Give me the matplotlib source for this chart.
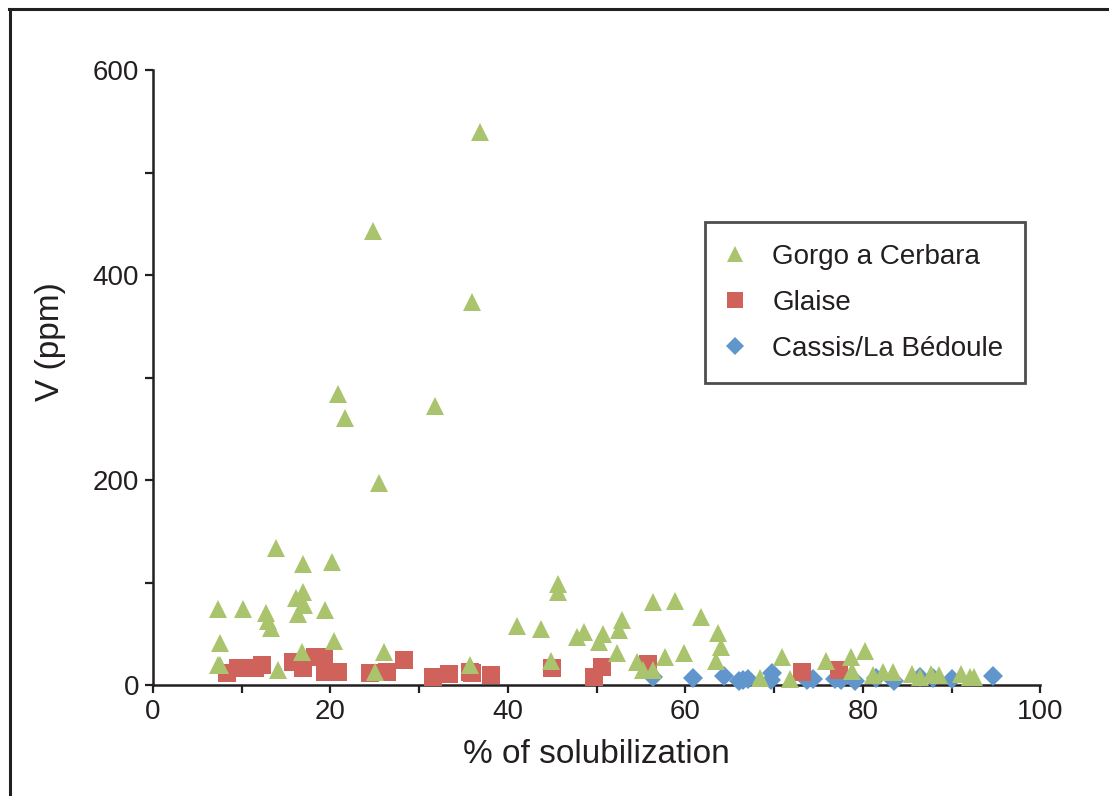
import matplotlib
matplotlib.use("Agg")
import matplotlib.pyplot as plt
from matplotlib.lines import Line2D
from matplotlib.ticker import MultipleLocator

plt.rcParams['font.family'] = ['Liberation Sans', 'DejaVu Sans']

# Gorgo a Cerbara (green triangles)
gorgo_x = [7.3, 7.6, 7.3, 7.6, 10.1, 12.7, 13.0, 13.3, 13.9, 14.1, 16.1, 16.3, 16.9, 16.9, 17.0, 16.8,
           19.4, 20.2, 20.4, 20.9, 21.6, 24.8, 25.0, 25.5, 26.0, 31.8, 36.0, 36.9, 35.7, 41.0, 43.7,
           44.9, 45.6, 45.7, 47.8, 48.6, 50.3, 50.7, 52.9, 52.5, 52.3, 54.6, 55.2, 56.4, 58.8, 57.7,
           56.4, 59.9, 61.8, 63.7, 64.0, 63.4, 70.9, 68.4, 71.8, 75.8, 78.7, 78.8, 80.2, 81.1, 82.3,
           83.4, 85.5, 86.5, 87.7, 88.6, 91.1, 92.1, 92.5]
gorgo_y = [74, 41, 20, 20, 74, 70, 62, 56, 134, 15, 85, 69, 91, 118, 78, 32,
           73, 120, 43, 284, 261, 443, 13, 197, 32, 272, 374, 540, 20, 58, 55,
           23, 99, 91, 47, 52, 42, 50, 63, 54, 31, 22, 15, 81, 82, 27,
           15, 31, 66, 51, 37, 23, 27, 7, 6, 23, 27, 14, 33, 10, 13,
           13, 11, 8, 11, 10, 11, 8, 8]

# Glaise (red squares)
glaise_x = [8.3, 9.6, 11.5, 12.3, 15.8, 16.9, 18.3, 19.3, 19.4, 20.9, 24.5, 26.4, 28.3, 31.6,
            33.4, 35.7, 36.0, 38.1, 45.0, 49.7, 50.6, 55.8, 73.2, 77.3]
glaise_y = [12, 17, 17, 20, 22, 17, 27, 27, 13, 13, 12, 13, 24, 8,
            11, 13, 12, 10, 17, 8, 18, 21, 13, 15]

# Cassis/La Bedoule (blue diamonds)
cassis_x = [56.4, 60.9, 64.3, 66.0, 66.5, 67.1, 69.8, 69.6, 73.7, 74.4, 76.9, 77.5, 79.1, 81.5,
            83.5, 86.5, 87.9, 90.0, 94.7]
cassis_y = [8, 7, 9, 4, 5, 6, 12, 5, 5, 6, 6, 5, 4, 7, 4, 8, 7, 6, 9]

green = '#AAC46E'
red = '#CF635C'
blue = '#6096CC'
ink = '#231F20'

fig = plt.figure(figsize=(11.09, 7.96), dpi=100)
ax = fig.add_axes([0.138, 0.1394, 0.8, 0.7726])

ax.plot(cassis_x, cassis_y, 'D', color=blue, ms=10.5, mew=0, clip_on=False, zorder=3)
ax.plot(glaise_x, glaise_y, 's', color=red, ms=12.5, mew=0, clip_on=False, zorder=4)
ax.plot(gorgo_x, gorgo_y, '^', color=green, ms=12.5, mew=0, clip_on=False, zorder=5)

ax.set_xlim(0, 100)
ax.set_ylim(0, 600)
ax.xaxis.set_major_locator(MultipleLocator(20))
ax.xaxis.set_minor_locator(MultipleLocator(10))
ax.yaxis.set_major_locator(MultipleLocator(200))
ax.yaxis.set_minor_locator(MultipleLocator(100))
for s in ['top', 'right']:
    ax.spines[s].set_visible(False)
for s in ['left', 'bottom']:
    ax.spines[s].set_linewidth(1.8)
    ax.spines[s].set_color(ink)
ax.tick_params(which='both', direction='out', length=6, width=1.6, color=ink,
               labelsize=20, labelcolor=ink, pad=4)

ax.set_xlabel('% of solubilization', fontsize=24, color=ink, labelpad=10)
ax.set_ylabel('V (ppm)', fontsize=24, color=ink)
ax.yaxis.set_label_coords(-0.098, 0.558)

handles = [
    Line2D([], [], ls='none', marker='^', color=green, ms=12, mew=0),
    Line2D([], [], ls='none', marker='s', color=red, ms=11.5, mew=0),
    Line2D([], [], ls='none', marker='D', color=blue, ms=9.5, mew=0),
]
leg = ax.legend(handles, ['Gorgo a Cerbara', 'Glaise', 'Cassis/La Bédoule'],
                loc='upper left', bbox_to_anchor=(0.622, 0.753), fontsize=20,
                fancybox=False, frameon=True, borderpad=0.78, labelspacing=0.72,
                handletextpad=1.05, handlelength=0.6, borderaxespad=0)
leg.get_frame().set_edgecolor(ink)
leg.get_frame().set_linewidth(2)
for t in leg.get_texts():
    t.set_color(ink)

# outer frame (left and top edges only)
fig.add_artist(Line2D([0.0088, 0.0088], [-0.01, 0.989], color=ink, lw=2.2, transform=fig.transFigure))
fig.add_artist(Line2D([0.0078, 1.01], [0.989, 0.989], color=ink, lw=2.2, transform=fig.transFigure))

fig.savefig('out.png', dpi=100)
